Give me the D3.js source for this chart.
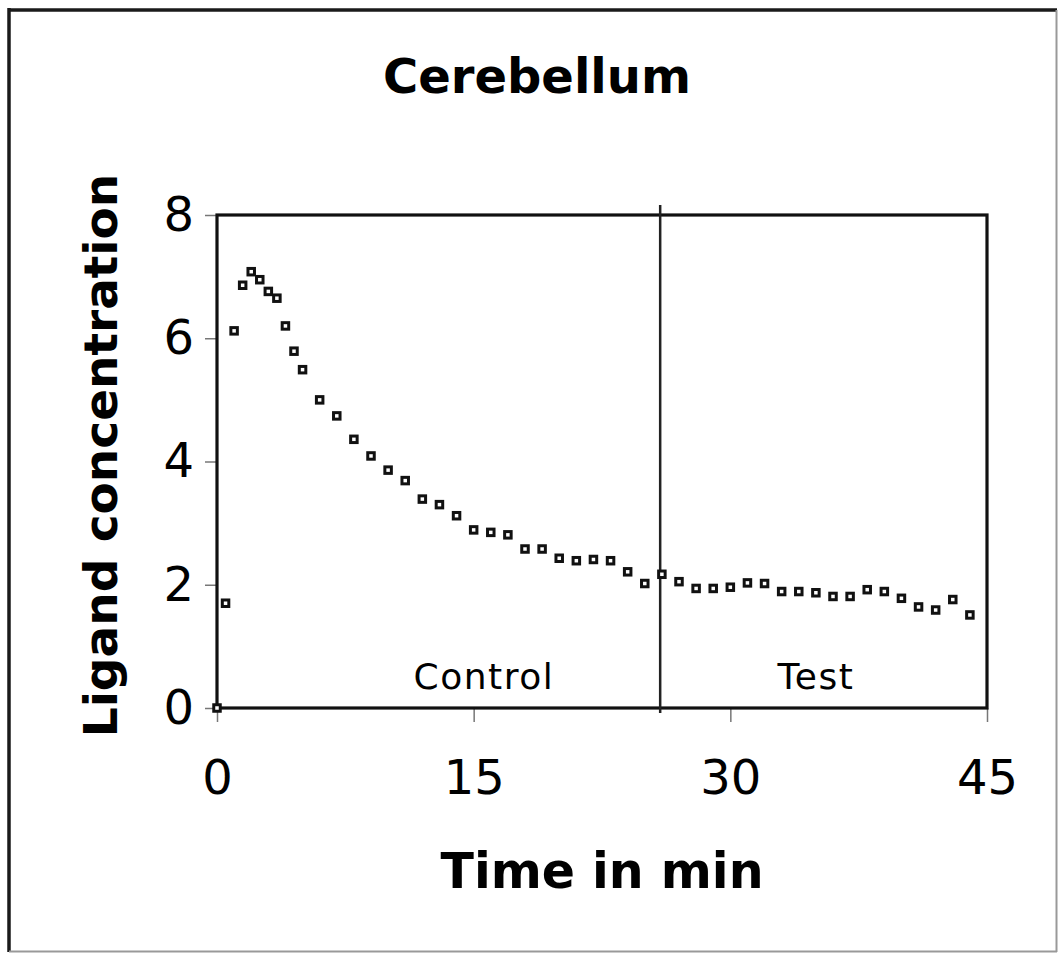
<!DOCTYPE html>
<html>
<head>
<meta charset="utf-8">
<script src="https://cdn.jsdelivr.net/npm/d3@7"></script>
<style>
  html, body { margin: 0; padding: 0; background: #fff; }
  svg { display: block; }
  text { font-family: "DejaVu Sans", Verdana, sans-serif; fill: #000; }
</style>
</head>
<body>
<svg id="chart" width="1058" height="954"></svg>
<script>
// ---- data ----
const timeMin = [0, 0.5, 1, 1.5, 2, 2.5, 3, 3.5, 4, 4.5, 5,
  6, 7, 8, 9, 10, 11, 12, 13, 14, 15, 16, 17, 18, 19, 20,
  21, 22, 23, 24, 25, 26, 27, 28, 29, 30, 31, 32, 33, 34, 35,
  36, 37, 38, 39, 40, 41, 42, 43, 44];
const concentration = [0, 1.70, 6.12, 6.86, 7.08, 6.95, 6.76, 6.65, 6.20, 5.79, 5.49,
  5.00, 4.74, 4.36, 4.09, 3.86, 3.69, 3.39, 3.30, 3.12, 2.89, 2.85, 2.81, 2.58, 2.58, 2.43,
  2.39, 2.41, 2.39, 2.21, 2.02, 2.17, 2.05, 1.94, 1.94, 1.96, 2.03, 2.02, 1.89, 1.89, 1.87,
  1.81, 1.81, 1.92, 1.89, 1.78, 1.64, 1.59, 1.76, 1.51];
const xTicks = [0, 15, 30, 45];
const yTicks = [0, 2, 4, 6, 8];
const phaseBoundary = 25.9;
const phaseLabels = ["Control", "Test"];
const phaseLabelX = [15.6, 35];
const chartTitle = "Cerebellum";
const xTitle = "Time in min";
const yTitle = "Ligand concentration";

// ---- layout ----
const svg = d3.select("#chart");
const pL = 217, pR = 987, pT = 215, pB = 708;

const x = d3.scaleLinear().domain([0, 45]).range([pL, pR]);
const y = d3.scaleLinear().domain([0, 8]).range([pB, pT]);

// outer frame
svg.append("line").attr("x1", 8).attr("x2", 1057).attr("y1", 10).attr("y2", 10)
  .attr("stroke", "#1a1a1a").attr("stroke-width", 3.5);
svg.append("line").attr("x1", 9).attr("x2", 9).attr("y1", 8).attr("y2", 952)
  .attr("stroke", "#1a1a1a").attr("stroke-width", 3.5);
svg.append("line").attr("x1", 1056.5).attr("x2", 1056.5).attr("y1", 10).attr("y2", 952)
  .attr("stroke", "#999").attr("stroke-width", 2);
svg.append("line").attr("x1", 9).attr("x2", 1057).attr("y1", 951.5).attr("y2", 951.5)
  .attr("stroke", "#999").attr("stroke-width", 2);

// axes (ticks)
const xAxis = d3.axisBottom(x).tickValues(xTicks).tickSize(14).tickPadding(38);
const yAxis = d3.axisLeft(y).tickValues(yTicks).tickSize(12).tickPadding(11);

const gx = svg.append("g").attr("transform", `translate(0,${pB})`).call(xAxis);
const gy = svg.append("g").attr("transform", `translate(${pL},0)`).call(yAxis);
[gx, gy].forEach(g => {
  g.select(".domain").remove();
  g.selectAll(".tick line").attr("stroke", "#777").attr("stroke-width", 1.5);
  g.selectAll(".tick text").attr("font-size", 48).attr("fill", "#111")
    .style("font-family", "'DejaVu Sans', Verdana, sans-serif");
});
gx.selectAll(".tick text").attr("dy", "0.71em");

// plot box
svg.append("rect").attr("x", pL).attr("y", pT)
  .attr("width", pR - pL).attr("height", pB - pT)
  .attr("fill", "none").attr("stroke", "#111").attr("stroke-width", 3.2);

// phase boundary
svg.append("line")
  .attr("x1", x(phaseBoundary)).attr("x2", x(phaseBoundary))
  .attr("y1", pT - 10).attr("y2", pB + 5)
  .attr("stroke", "#222").attr("stroke-width", 2.5);

// phase labels
svg.selectAll(".phase").data(phaseLabels).join("text")
  .attr("class", "phase")
  .attr("x", (d, i) => x(phaseLabelX[i]))
  .attr("y", pB - 19)
  .attr("text-anchor", "middle")
  .attr("font-size", 36)
  .attr("letter-spacing", 1.5)
  .attr("fill", "#111")
  .text(d => d);

// points
const pts = timeMin.map((t, i) => ({ t, c: concentration[i] }));
const s = 6.5;
svg.selectAll(".pt").data(pts).join("rect")
  .attr("class", "pt")
  .attr("x", d => x(d.t) - s / 2)
  .attr("y", d => y(d.c) - s / 2)
  .attr("width", s).attr("height", s)
  .attr("fill", "#fff")
  .attr("stroke", "#111")
  .attr("stroke-width", 3);

// titles
svg.append("text").attr("x", 537).attr("y", 93)
  .attr("text-anchor", "middle").attr("font-weight", "bold")
  .attr("font-size", 48).text(chartTitle);

svg.append("text").attr("x", (pL + pR) / 2).attr("y", 888)
  .attr("text-anchor", "middle").attr("font-weight", "bold")
  .attr("font-size", 49).text(xTitle);

svg.append("text")
  .attr("transform", `translate(117,${(pT + pB) / 2 - 6}) rotate(-90)`)
  .attr("text-anchor", "middle").attr("font-weight", "bold")
  .attr("font-size", 47).text(yTitle);
</script>
</body>
</html>
